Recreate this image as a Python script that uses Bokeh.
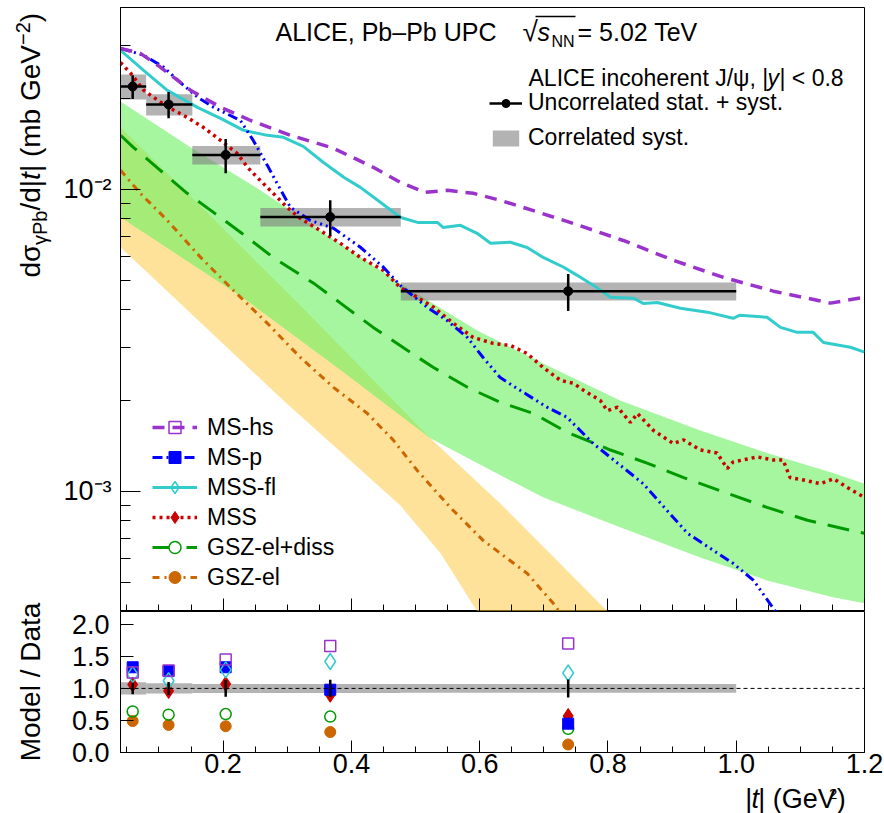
from math import log10, pi
from bokeh.plotting import figure
from bokeh.models import (Range1d, FixedTicker, CustomJSTickFormatter, PrintfTickFormatter,
                          Legend, LegendItem, Label, Span, CustomLabelingPolicy)
from bokeh.layouts import column, row
from bokeh.embed import file_html
from bokeh.resources import INLINE

# ---------------- data ----------------
bin_lo = [0.04, 0.08, 0.152, 0.258, 0.477]
bin_hi = [0.08, 0.152, 0.258, 0.477, 1.0]
bin_mean = [0.059, 0.115, 0.204, 0.367, 0.738]
xsec = [0.0219, 0.0191, 0.0130, 0.0081, 0.0046]
unc_rel = [0.09, 0.10, 0.13, 0.135, 0.14]
corr_rel = [0.095, 0.08, 0.07, 0.07, 0.068]

mshs_t = [0.040, 0.071, 0.102, 0.149, 0.196, 0.243, 0.305, 0.372, 0.434, 0.476, 0.515, 0.550,
          0.590, 0.632, 0.668, 0.746, 0.824, 0.902, 0.980, 1.058, 1.147, 1.200]
mshs_y = [0.0293, 0.0282, 0.0254, 0.0213, 0.0187, 0.0169, 0.0151, 0.01368, 0.01183, 0.01055,
          0.00977, 0.00993, 0.00970, 0.00920, 0.00871, 0.00771, 0.00677, 0.00582, 0.00511,
          0.00460, 0.00420, 0.00439]

msp_t = [0.040, 0.076, 0.107, 0.133, 0.160, 0.185, 0.227, 0.247, 0.269, 0.290, 0.305, 0.336,
         0.372, 0.414, 0.450, 0.476, 0.518, 0.549, 0.581, 0.605, 0.632, 0.663, 0.705, 0.736,
         0.777, 0.815, 0.855, 0.892, 0.924, 0.964, 0.995, 1.027, 1.061, 1.090]
msp_y = [0.0293, 0.0278, 0.0254, 0.0226, 0.0202, 0.0187, 0.0169, 0.01452, 0.01200, 0.00993,
         0.00871, 0.00789, 0.00743, 0.00643, 0.00552, 0.00481, 0.00407, 0.00368, 0.00323,
         0.00278, 0.00238, 0.00216, 0.00190, 0.00176, 0.00144, 0.00124, 0.00106, 0.000865,
         0.000726, 0.000638, 0.000578, 0.000507, 0.000401, 0.00033]

mssfl_t = [0.040, 0.076, 0.113, 0.160, 0.196, 0.232, 0.269, 0.294, 0.325, 0.356, 0.388, 0.414,
           0.441, 0.476, 0.503, 0.534, 0.543, 0.570, 0.596, 0.617, 0.648, 0.674, 0.699, 0.731,
           0.752, 0.777, 0.804, 0.840, 0.855, 0.877, 0.913, 0.955, 0.995, 1.006, 1.048, 1.069,
           1.095, 1.120, 1.136, 1.178, 1.200]
mssfl_y = [0.02886, 0.02477, 0.02127, 0.01868, 0.01718, 0.01568, 0.01509, 0.01487, 0.01388,
           0.01229, 0.01096, 0.01015, 0.00920, 0.00808, 0.00777, 0.00777, 0.00748, 0.00760,
           0.00715, 0.00663, 0.00668, 0.00642, 0.00595, 0.00552, 0.00519, 0.00481, 0.00439,
           0.00436, 0.00419, 0.00422, 0.00404, 0.00392, 0.00374, 0.00383, 0.00377, 0.00349,
           0.00336, 0.00336, 0.00311, 0.00300, 0.00289]

mss_t = [0.040, 0.056, 0.076, 0.098, 0.118, 0.144, 0.169, 0.196, 0.222, 0.238, 0.253, 0.278,
         0.300, 0.320, 0.351, 0.383, 0.414, 0.450, 0.476, 0.492, 0.528, 0.559, 0.590, 0.621,
         0.648, 0.674, 0.699, 0.726, 0.746, 0.762, 0.788, 0.799, 0.815, 0.835, 0.846, 0.871,
         0.902, 0.918, 0.944, 0.970, 0.986, 0.995, 1.033, 1.058, 1.073, 1.084, 1.105, 1.131,
         1.152, 1.173, 1.200]
mss_y = [0.0263, 0.0242, 0.0213, 0.01972, 0.01854, 0.0173, 0.01604, 0.01452, 0.01315, 0.01183,
         0.01096, 0.00970, 0.00871, 0.00802, 0.00731, 0.00662, 0.00595, 0.00539, 0.00473,
         0.00453, 0.00407, 0.00360, 0.00323, 0.00309, 0.00304, 0.00286, 0.00257, 0.00233,
         0.00228, 0.00216, 0.00200, 0.00185, 0.00190, 0.00169, 0.00181, 0.00159, 0.00144,
         0.00148, 0.00137, 0.00134, 0.00119, 0.00125, 0.00130, 0.00127, 0.00127, 0.00111,
         0.00109, 0.00106, 0.00110, 0.00103, 0.000955]

gszd_t = [0.040, 0.060, 0.102, 0.144, 0.185, 0.227, 0.278, 0.341, 0.383, 0.434, 0.487, 0.528,
          0.581, 0.632, 0.684, 0.736, 0.804, 0.861, 0.918, 0.986, 1.048, 1.111, 1.178, 1.200]
gszd_y = [0.0151, 0.01377, 0.01156, 0.00970, 0.00839, 0.00721, 0.00595, 0.00489, 0.00420,
          0.00349, 0.00293, 0.00257, 0.00221, 0.00197, 0.00181, 0.00157, 0.00137, 0.00124,
          0.00111, 0.000985, 0.000885, 0.000802, 0.000743, 0.000726]
gszd_hi_t = [0.040, 0.149, 0.258, 0.367, 0.476, 0.596, 0.699, 0.819, 0.944, 1.048, 1.151, 1.200]
gszd_hi_y = [0.01954, 0.01377, 0.00993, 0.00693, 0.00489, 0.00341, 0.00265, 0.00200, 0.00159,
             0.00134, 0.00115, 0.00106]
gszd_lo_t = [0.040, 0.232, 0.383, 0.523, 0.596, 0.699, 0.819, 0.944, 1.048, 1.151, 1.200]
gszd_lo_y = [0.00808, 0.00436, 0.00252, 0.00150, 0.00124, 0.000955, 0.000760, 0.000604,
             0.000507, 0.000446, 0.000426]

gsz_t = [0.040, 0.071, 0.113, 0.165, 0.216, 0.269, 0.320, 0.372, 0.425, 0.465, 0.503, 0.554,
         0.605, 0.632, 0.674, 0.715, 0.740]
gsz_y = [0.01156, 0.00970, 0.00789, 0.00595, 0.00463, 0.00360, 0.00278, 0.00221, 0.00181,
         0.00148, 0.00117, 0.000885, 0.000689, 0.000624, 0.000535, 0.000425, 0.00036]
gsz_hi_t = [0.040, 0.165, 0.320, 0.523, 0.632, 0.799, 0.866]
gsz_hi_y = [0.01604, 0.00879, 0.00413, 0.00150, 0.000912, 0.000401, 0.000289]
gsz_lo_t = [0.040, 0.294, 0.476, 0.539, 0.596, 0.632]
gsz_lo_y = [0.00643, 0.00200, 0.000899, 0.000624, 0.000401, 0.000309]

# model / data ratios per bin
r_mshs = [1.25, 1.28, 1.45, 1.66, 1.70]
r_msp = [1.33, 1.27, 1.33, 0.98, 0.45]
r_mssfl = [1.22, 1.12, 1.29, 1.42, 1.24]
r_mss = [1.06, 0.96, 1.07, 0.90, 0.57]
r_gszd = [0.64, 0.59, 0.60, 0.56, 0.37]
r_gsz = [0.49, 0.43, 0.41, 0.32, 0.125]

x_major = [0.2, 0.4, 0.6, 0.8, 1.0, 1.2]
x_minor = [0.05, 0.1, 0.15, 0.25, 0.3, 0.35, 0.45, 0.5, 0.55, 0.65, 0.7, 0.75,
           0.85, 0.9, 0.95, 1.05, 1.1, 1.15]
y_major = [1e-3, 1e-2]
y_minor = [4e-4, 5e-4, 6e-4, 7e-4, 8e-4, 9e-4, 2e-3, 3e-3, 4e-3, 5e-3, 6e-3, 7e-3, 8e-3,
           9e-3, 2e-2, 3e-2, 4e-2]
r_major = [0.0, 0.5, 1.0, 1.5, 2.0]

# ---------------- geometry / styling ----------------
FONT = "Liberation Sans"
C_MSHS, C_MSP, C_MSSFL, C_MSS, C_GSZD, C_GSZ = "#9933CC", "#0000FF", "#33CCCC", "#CC0000", "#009900", "#CC6600"

W, H = 884, 813
LW = 55                      # width of the left strip that holds the axis titles
X0, X1 = 0.04, 1.2
Y0, Y1 = 4e-4, 4e-2
R0, R1 = 0.0, 2.2
FL, FR, FT, FB, RB = 120, 864, 7, 611, 752
XAX = 31                     # space under the ratio frame for its tick labels
XB = RB + XAX                # top of the strip with the x-axis title


def tx(px):
    return X0 + (px - FL) / (FR - FL) * (X1 - X0)


def ty(py):
    return 10 ** (log10(Y1) - (py - FT) / (FB - FT) * (log10(Y1) - log10(Y0)))


xr = Range1d(X0, X1)

p1 = figure(x_range=xr, y_range=Range1d(Y0, Y1), y_axis_type="log", title=None,
            frame_width=FR - FL, frame_height=FB - FT,
            min_border_left=FL - LW, min_border_right=W - FR, min_border_top=FT, min_border_bottom=0,
            output_backend="svg", toolbar_location=None)
p2 = figure(x_range=xr, y_range=Range1d(R0, R1), title=None,
            frame_width=FR - FL, frame_height=RB - FB,
            min_border_left=FL - LW, min_border_right=W - FR, min_border_top=0,
            min_border_bottom=XAX,
            output_backend="svg", toolbar_location=None)

for p in (p1, p2):
    p.grid.visible = False
    p.outline_line_color = "black"
    p.outline_line_width = 1
    p.background_fill_color = "white"
    p.border_fill_color = "white"
    for ax in (p.xaxis[0], p.yaxis[0]):
        ax.axis_line_color = "black"
        ax.major_tick_line_color = "black"
        ax.minor_tick_line_color = "black"
        ax.major_tick_out = 0
        ax.minor_tick_out = 0
        ax.major_label_text_font = FONT
        ax.major_label_text_color = "black"
        ax.major_label_text_font_size = "27px"

# top panel axes (x: ticks only)
p1.xaxis.ticker = FixedTicker(ticks=x_major, minor_ticks=x_minor)
p1.xaxis.major_tick_in = 13
p1.xaxis.minor_tick_in = 7
p1.xaxis.major_label_text_font_size = "0px"
p1.xaxis.major_label_standoff = 0
p1.xaxis.major_label_policy = CustomLabelingPolicy(code="return new Set()")
p1.yaxis.ticker = FixedTicker(ticks=y_major, minor_ticks=y_minor)
p1.yaxis.major_tick_in = 20
p1.yaxis.minor_tick_in = 10
p1.yaxis.major_label_standoff = 9
p1.yaxis.formatter = CustomJSTickFormatter(code="""
const e = Math.round(Math.log10(tick));
const m = {'-': '\\u207B', '0': '\\u2070', '1': '\\u00B9', '2': '\\u00B2', '3': '\\u00B3', '4': '\\u2074'};
return '10' + String(e).split('').map(c => m[c]).join('');
""")

# ratio panel axes
p2.xaxis.ticker = FixedTicker(ticks=x_major, minor_ticks=x_minor)
p2.xaxis.major_tick_in = 12
p2.xaxis.minor_tick_in = 6
p2.xaxis.major_label_standoff = 1
p2.xaxis.formatter = PrintfTickFormatter(format="%.1f")
p2.yaxis.ticker = FixedTicker(ticks=r_major, minor_ticks=[])
p2.yaxis.major_tick_in = 13
p2.yaxis.major_label_standoff = 11
p2.yaxis.formatter = PrintfTickFormatter(format="%.1f")

# ---------------- top panel ----------------
p1.patch(gsz_hi_t + gsz_lo_t[::-1], gsz_hi_y + gsz_lo_y[::-1],
         fill_color="#FFC533", fill_alpha=0.5, line_color=None)
p1.patch(gszd_hi_t + gszd_lo_t[::-1], gszd_hi_y + gszd_lo_y[::-1],
         fill_color="#6EF064", fill_alpha=0.62, line_color=None)

boxes = p1.quad(left=bin_lo, right=bin_hi,
                bottom=[v * (1 - c) for v, c in zip(xsec, corr_rel)],
                top=[v * (1 + c) for v, c in zip(xsec, corr_rel)],
                fill_color="#808080", fill_alpha=0.6, line_color=None)

l_gsz = p1.line(gsz_t, gsz_y, line_color=C_GSZ, line_width=3, line_dash="7 5 2 5")
l_gszd = p1.line(gszd_t, gszd_y, line_color=C_GSZD, line_width=3, line_dash="22 12")
l_mss = p1.line(mss_t, mss_y, line_color=C_MSS, line_width=3.5, line_dash="3 4")
l_mssfl = p1.line(mssfl_t, mssfl_y, line_color=C_MSSFL, line_width=3)
l_msp = p1.line(msp_t, msp_y, line_color=C_MSP, line_width=3, line_dash="10 4 2 4 2 4 2 4")
l_mshs = p1.line(mshs_t, mshs_y, line_color=C_MSHS, line_width=3.5, line_dash="12 8")

hbar = p1.segment(x0=bin_lo, x1=bin_hi, y0=xsec, y1=xsec, line_color="black", line_width=2.5)
p1.segment(x0=bin_mean, x1=bin_mean,
           y0=[v * (1 - u) for v, u in zip(xsec, unc_rel)],
           y1=[v * (1 + u) for v, u in zip(xsec, unc_rel)],
           line_color="black", line_width=2.5)
dots = p1.scatter(bin_mean, xsec, size=9, color="black")
# zero-size markers: only their legend glyphs are seen
vbar = p1.scatter(bin_mean[:1], xsec[:1], marker="cross", size=0, line_color="black", line_width=2.5)
m_mshs = p1.scatter(mshs_t[:1], mshs_y[:1], marker="square", size=0, line_color=C_MSHS, fill_color=None, line_width=1.5)
m_msp = p1.scatter(msp_t[:1], msp_y[:1], marker="square", size=0, line_color=C_MSP, fill_color=C_MSP)
m_mssfl = p1.scatter(mssfl_t[:1], mssfl_y[:1], marker="diamond", size=0, line_color=C_MSSFL, fill_color=None, line_width=1.5)
m_mss = p1.scatter(mss_t[:1], mss_y[:1], marker="diamond", size=0, line_color=C_MSS, fill_color=C_MSS)
m_gszd = p1.scatter(gszd_t[:1], gszd_y[:1], marker="circle", size=0, line_color=C_GSZD, fill_color="white", line_width=1.5)
m_gsz = p1.scatter(gsz_t[:1], gsz_y[:1], marker="circle", size=0, line_color=C_GSZ, fill_color=C_GSZ)

leg_models = Legend(items=[
    LegendItem(label="MS-hs", renderers=[l_mshs, m_mshs]),
    LegendItem(label="MS-p", renderers=[l_msp, m_msp]),
    LegendItem(label="MSS-fl", renderers=[l_mssfl, m_mssfl]),
    LegendItem(label="MSS", renderers=[l_mss, m_mss]),
    LegendItem(label="GSZ-el+diss", renderers=[l_gszd, m_gszd]),
    LegendItem(label="GSZ-el", renderers=[l_gsz, m_gsz]),
], location=(32, 19), glyph_width=45, glyph_height=30, label_height=30, spacing=0,
    label_standoff=10, padding=0, margin=0, border_line_alpha=0, background_fill_alpha=0,
    label_text_font=FONT, label_text_font_size="23px", label_text_color="black")
p1.add_layout(leg_models)

leg_data = Legend(items=[
    LegendItem(label="Uncorrelated stat. + syst.", renderers=[hbar, vbar, dots]),
    LegendItem(label="Correlated syst.", renderers=[boxes]),
], location=(369, 460), glyph_width=33, glyph_height=20, label_height=20, spacing=8,
    label_standoff=6, padding=0, margin=0, border_line_alpha=0, background_fill_alpha=0,
    label_text_font=FONT, label_text_font_size="23px", label_text_color="black")
p1.add_layout(leg_data)


def lab(p, x, y, text, size, style="normal", angle=0.0, align="left"):
    """(x, y) is the middle of the text line."""
    p.add_layout(Label(x=x, y=y, text=text, text_font=FONT, text_font_size=f"{size}px",
                       text_font_style=style, text_color="black", angle=angle,
                       text_align=align, text_baseline="middle"))


# header text (centres of the text lines)
lab(p1, tx(275), ty(31), "ALICE, Pb\u2013Pb UPC", 25)
lab(p1, tx(522), ty(31), "\u221A", 28)
lab(p1, tx(537), ty(31), "s", 25, "italic")
lab(p1, tx(551), ty(40.5), "NN", 16)
lab(p1, tx(577), ty(31), "= 5.02 TeV", 25)
p1.line([tx(535), tx(575)], [ty(16), ty(16)], line_color="black", line_width=1.5)

lab(p1, tx(528), ty(77), "ALICE incoherent J/\u03C8, |", 23)
lab(p1, tx(767), ty(77), "y", 23, "italic")
lab(p1, tx(779), ty(77), "| < 0.8", 23)

# ---------------- ratio panel ----------------
p2.quad(left=bin_lo, right=bin_hi,
        bottom=[1 - c for c in corr_rel], top=[1 + c for c in corr_rel],
        fill_color="#808080", fill_alpha=0.6, line_color=None)
p2.add_layout(Span(location=1.0, dimension="width", line_color="black", line_width=1, line_dash="4 3"))

p2.scatter(bin_mean, r_gsz, marker="circle", size=11, line_color=C_GSZ, fill_color=C_GSZ)
p2.scatter(bin_mean, r_gszd, marker="circle", size=11, line_color=C_GSZD, fill_color=None, line_width=1.5)
p2.scatter(bin_mean, r_mss, marker="diamond", size=15, line_color=C_MSS, fill_color=C_MSS)
p2.scatter(bin_mean, r_msp, marker="square", size=11, line_color=C_MSP, fill_color=C_MSP)
p2.scatter(bin_mean, r_mssfl, marker="diamond", size=16, line_color=C_MSSFL, fill_color=None, line_width=1.5)
p2.scatter(bin_mean, r_mshs, marker="square", size=11, line_color=C_MSHS, fill_color=None, line_width=1.5)
p2.segment(x0=bin_mean, x1=bin_mean, y0=[1 - u for u in unc_rel], y1=[1 + u for u in unc_rel],
           line_color="black", line_width=2.5)


# ---------------- axis-title strips (page pixel coordinates) ----------------
def strip(width, height, x_start, y_start):
    f = figure(width=width, height=height, x_range=Range1d(x_start, x_start + width),
               y_range=Range1d(H - y_start - height, H - y_start), title=None,
               x_axis_location=None, y_axis_location=None, min_border=0,
               output_backend="svg", toolbar_location=None)
    f.grid.visible = False
    f.outline_line_color = None
    f.background_fill_color = "white"
    f.border_fill_color = "white"
    return f


ytitle = strip(LW, H, 0, 0)
A = pi / 2
lab(ytitle, 30, H - 277, "d\u03C3", 28, angle=A)
lab(ytitle, 39, H - 244.6, "\u03B3Pb", 20, angle=A)
lab(ytitle, 30, H - 210.0, "/d|", 28, angle=A)
lab(ytitle, 30, H - 179.4, "t", 28, "italic", angle=A)
lab(ytitle, 30, H - 171.6, "| (mb GeV", 28, angle=A)
lab(ytitle, 22, H - 44.5, "\u22122", 20, angle=A)
lab(ytitle, 30, H - 21.7, ")", 28, angle=A)
lab(ytitle, 30, H - 681.5, "Model / Data", 28, angle=A, align="center")

xtitle = strip(W - LW, H - XB, LW, XB)
lab(xtitle, 751, H - 798, "|", 27)
lab(xtitle, 758, H - 798, "t", 27, "italic")
lab(xtitle, 765.5, H - 798, "| (GeV", 27)
lab(xtitle, 844.5, H - 793, "2", 15)
lab(xtitle, 853, H - 798, ")", 27)

layout = row(ytitle, column(p1, p2, xtitle, spacing=0), spacing=0)
open("out.html", "w").write(file_html(layout, INLINE))
